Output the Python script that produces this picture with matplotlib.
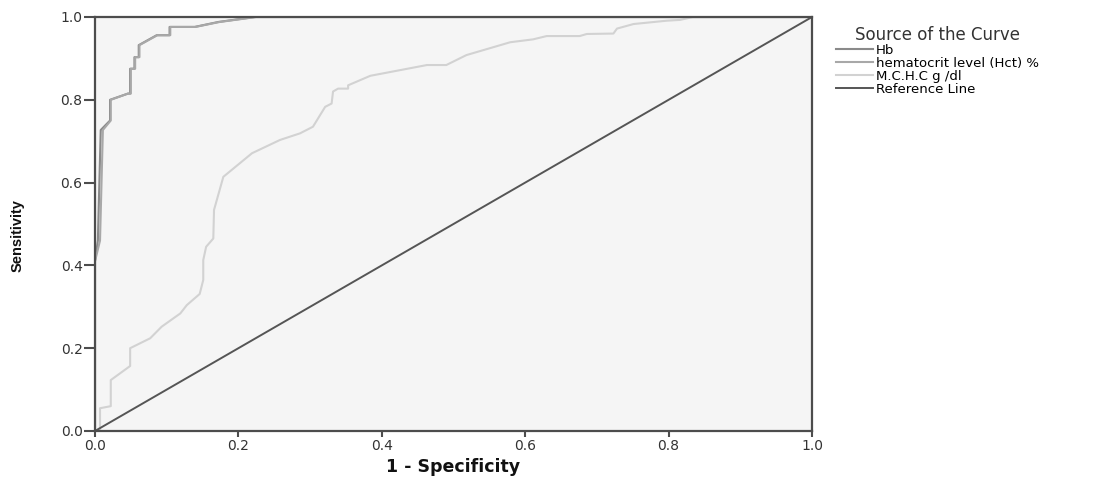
#! /usr/bin/env python3

import matplotlib
matplotlib.use('Agg')
import matplotlib.pyplot as plt
import numpy as np

# ROC curve points (1 - specificity, sensitivity)
hb_fpr = [0.0, 0.0, 0.004, 0.008, 0.021, 0.021, 0.046, 0.049, 0.049, 0.055,
          0.055, 0.061, 0.061, 0.086, 0.104, 0.104, 0.139, 0.172, 0.223, 1.0]
hb_tpr = [0.0, 0.41, 0.46, 0.727, 0.75, 0.80, 0.815, 0.815, 0.875, 0.875,
          0.903, 0.903, 0.932, 0.956, 0.956, 0.976, 0.976, 0.988, 1.0, 1.0]

hct_fpr = [0.0, 0.0, 0.007, 0.011, 0.022, 0.022, 0.046, 0.050, 0.050, 0.056,
           0.056, 0.062, 0.062, 0.087, 0.105, 0.105, 0.140, 0.174, 0.225, 1.0]
hct_tpr = [0.0, 0.41, 0.46, 0.727, 0.75, 0.80, 0.815, 0.815, 0.875, 0.875,
           0.903, 0.903, 0.932, 0.956, 0.956, 0.976, 0.976, 0.988, 1.0, 1.0]

mchc_fpr = [0.0, 0.007, 0.007, 0.022, 0.022, 0.049, 0.049, 0.077, 0.093, 0.119,
            0.128, 0.146, 0.151, 0.151, 0.155, 0.165, 0.166, 0.179, 0.219, 0.258,
            0.286, 0.304, 0.321, 0.330, 0.332, 0.339, 0.353, 0.353, 0.384, 0.463,
            0.490, 0.518, 0.579, 0.611, 0.630, 0.676, 0.686, 0.723, 0.728, 0.751,
            0.797, 0.816, 0.834, 1.0]
mchc_tpr = [0.0, 0.0, 0.055, 0.06, 0.123, 0.157, 0.20, 0.224, 0.252, 0.284,
            0.304, 0.331, 0.365, 0.413, 0.445, 0.465, 0.534, 0.614, 0.671, 0.703,
            0.719, 0.735, 0.783, 0.791, 0.82, 0.827, 0.827, 0.835, 0.858, 0.884,
            0.884, 0.908, 0.939, 0.946, 0.954, 0.954, 0.959, 0.96, 0.972, 0.983,
            0.991, 0.993, 1.0, 1.0]

ref_line = [0.0, 1.0]

labels = ['Hb', 'hematocrit level (Hct) %', 'M.C.H.C g /dl', 'Reference Line']
ticks = [0.0, 0.2, 0.4, 0.6, 0.8, 1.0]

FRAME = '#4d4d4d'

fig = plt.figure(figsize=(10.98, 4.79), dpi=100)
ax = fig.add_axes([95 / 1098, 1 - 431 / 479, 717 / 1098, 414 / 479])
ax.set_facecolor('#f5f5f5')

ax.plot(hb_fpr, hb_tpr, color='#8a8a8a', lw=1.5, label=labels[0])
ax.plot(hct_fpr, hct_tpr, color='#a8a8a8', lw=1.5, label=labels[1])
ax.plot(mchc_fpr, mchc_tpr, color='#d2d2d2', lw=1.5, label=labels[2])
ax.plot(ref_line, ref_line, color='#555555', lw=1.4, label=labels[3])

ax.set_xlim(0, 1)
ax.set_ylim(0, 1)
ax.set_xticks(ticks)
ax.set_yticks(ticks)
ax.set_xticklabels([f'{t:.1f}' for t in ticks])
ax.set_yticklabels([f'{t:.1f}' for t in ticks])

for s in ax.spines.values():
    s.set_color(FRAME)
    s.set_linewidth(1.6)

ax.tick_params(axis='x', direction='out', length=4, width=1.5, color=FRAME,
               pad=2, labelsize=10, labelcolor='#333333')
ax.tick_params(axis='y', direction='out', length=8, width=1.5, color=FRAME,
               pad=1, labelsize=10, labelcolor='#333333')
for lbl in ax.get_xticklabels() + ax.get_yticklabels():
    lbl.set_family('DejaVu Sans')

ax.set_xlabel('1 - Specificity', fontsize=12.5, fontweight='bold',
              family='DejaVu Sans', labelpad=3, color='#111111')
fig.text(18 / 1098, 1 - 236 / 479, 'Sensitivity', rotation=90, ha='center',
         va='center', fontsize=10.5, fontweight='bold',
         family=['Liberation Sans Narrow', 'Liberation Sans'], color='#111111')

leg = fig.legend(loc='upper left', bbox_to_anchor=(836 / 1098, 1 - 26 / 479),
                 bbox_transform=fig.transFigure, frameon=False,
                 title='Source of the Curve', prop={'family': 'DejaVu Sans', 'size': 9.5},
                 handlelength=2.8, handletextpad=0.2, labelspacing=0.0,
                 borderpad=0, borderaxespad=0)
leg.get_title().set_fontsize(12)
leg.get_title().set_family('DejaVu Sans')
leg.get_title().set_color('#333333')

fig.savefig('out.png', dpi=100)
